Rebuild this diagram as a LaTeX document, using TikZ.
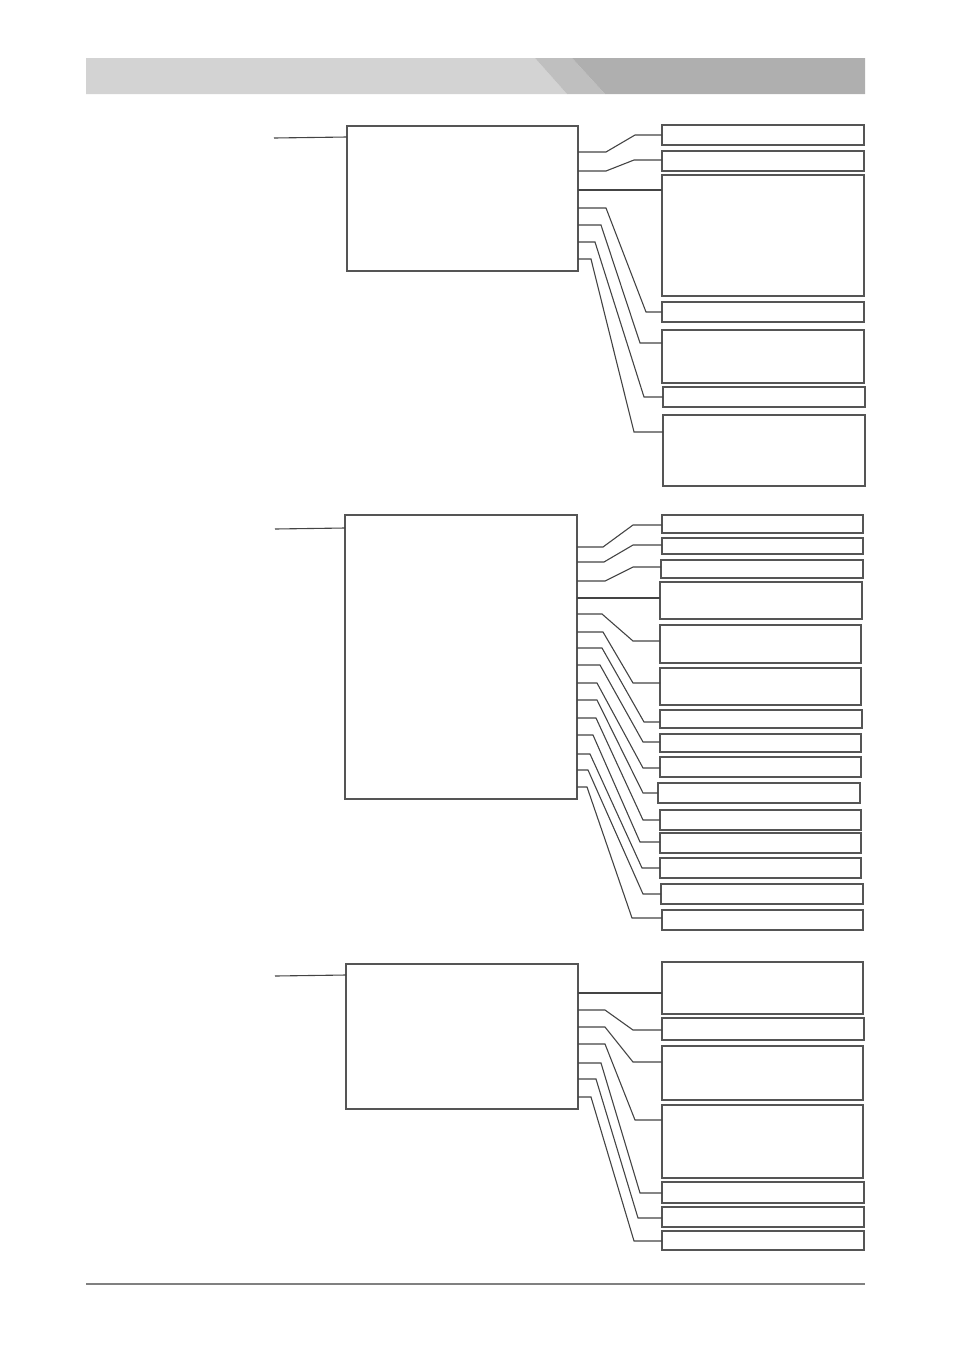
\documentclass[tikz,border=0pt]{standalone}
\usepackage{tikz}
\definecolor{boxgray}{HTML}{555555}
\definecolor{linegray}{HTML}{444444}
\definecolor{bandlight}{HTML}{D3D3D3}
\definecolor{bandmid}{HTML}{BFBFBF}
\definecolor{banddark}{HTML}{AFAFAF}
\tikzset{every node/.style={shape=rectangle,draw=boxgray,line width=1.4pt,anchor=north west,inner sep=0pt,outer sep=0pt}}
\tikzset{mainbox/.style={line width=1.6pt}}
\tikzset{link/.style={draw=linegray,line width=1.1pt}}

\begin{document}
\begin{tikzpicture}[x=1pt,y=-1pt]
  \useasboundingbox (0,0) rectangle (954,1350);

  % header band
  \fill[bandlight] (86,58) -- (535,58) -- (567,94) -- (86,94) -- cycle;
  \fill[bandmid] (535,58) -- (572,58) -- (605,94) -- (567,94) -- cycle;
  \fill[banddark] (572,58) -- (865,58) -- (865,94) -- (605,94) -- cycle;

  % first group
  \node[mainbox,minimum width=231pt,minimum height=145pt] (A) at (347,126) {};
  \node[minimum width=202pt,minimum height=20pt] (a1) at (662,125) {};
  \node[minimum width=202pt,minimum height=20pt] (a2) at (662,151) {};
  \node[minimum width=202pt,minimum height=121pt] (a3) at (662,175) {};
  \node[minimum width=202pt,minimum height=20pt] (a4) at (662,302) {};
  \node[minimum width=202pt,minimum height=53pt] (a5) at (662,330) {};
  \node[minimum width=202pt,minimum height=20pt] (a6) at (663,387) {};
  \node[minimum width=202pt,minimum height=71pt] (a7) at (663,415) {};

  \coordinate (inA) at (274,138);
  \path[link] (inA) -- (A.west |- 0,137);
  \path[link] (A.east |- 0,190) -- (a3.west |- 0,190);
  \foreach \ya/\xh/\xs/\yb/\n in {152/606/635/135/1, 171/606/634/160/2,
      208/606/646/312/4, 225/601/640/343/5, 242/595/644/397/6, 259/591/634/432/7}
    \path[link] (A.east |- 0,\ya) -- (\xh,\ya) -- (\xs,\yb) -- (a\n.west |- 0,\yb);

  % second group
  \node[mainbox,minimum width=232pt,minimum height=284pt] (B) at (345,515) {};
  \node[minimum width=201pt,minimum height=18pt] (b1) at (662,515) {};
  \node[minimum width=201pt,minimum height=16pt] (b2) at (662,538) {};
  \node[minimum width=202pt,minimum height=18pt] (b3) at (661,560) {};
  \node[minimum width=202pt,minimum height=37pt] (b4) at (660,582) {};
  \node[minimum width=201pt,minimum height=38pt] (b5) at (660,625) {};
  \node[minimum width=201pt,minimum height=37pt] (b6) at (660,668) {};
  \node[minimum width=202pt,minimum height=18pt] (b7) at (660,710) {};
  \node[minimum width=201pt,minimum height=18pt] (b8) at (660,734) {};
  \node[minimum width=201pt,minimum height=20pt] (b9) at (660,757) {};
  \node[minimum width=202pt,minimum height=20pt] (b10) at (658,783) {};
  \node[minimum width=201pt,minimum height=20pt] (b11) at (660,810) {};
  \node[minimum width=201pt,minimum height=20pt] (b12) at (660,833) {};
  \node[minimum width=201pt,minimum height=20pt] (b13) at (660,858) {};
  \node[minimum width=202pt,minimum height=20pt] (b14) at (661,884) {};
  \node[minimum width=201pt,minimum height=20pt] (b15) at (662,910) {};

  \coordinate (inB) at (275,529);
  \path[link] (inB) -- (B.west |- 0,528);
  \path[link] (B.east |- 0,598) -- (b4.west |- 0,598);
  \foreach \ya/\xh/\xs/\yb/\n in {547/603/633/525/1, 562/604/633/545/2, 581/605/633/567/3,
      614/602/633/641/5, 632/603/633/683/6, 648/602/644/722/7, 665/600/643/742/8,
      683/597/643/768/9, 700/597/643/793/10, 718/596/643/820/11, 735/593/640/842/12,
      754/590/642/868/13, 770/588/643/894/14, 787/587/632/918/15}
    \path[link] (B.east |- 0,\ya) -- (\xh,\ya) -- (\xs,\yb) -- (b\n.west |- 0,\yb);

  % third group
  \node[mainbox,minimum width=232pt,minimum height=145pt] (C) at (346,964) {};
  \node[minimum width=201pt,minimum height=52pt] (c1) at (662,962) {};
  \node[minimum width=202pt,minimum height=22pt] (c2) at (662,1018) {};
  \node[minimum width=201pt,minimum height=54pt] (c3) at (662,1046) {};
  \node[minimum width=201pt,minimum height=73pt] (c4) at (662,1105) {};
  \node[minimum width=202pt,minimum height=21pt] (c5) at (662,1182) {};
  \node[minimum width=202pt,minimum height=20pt] (c6) at (662,1207) {};
  \node[minimum width=202pt,minimum height=19pt] (c7) at (662,1231) {};

  \coordinate (inC) at (275,976);
  \path[link] (inC) -- (C.west |- 0,975);
  \path[link] (C.east |- 0,993) -- (c1.west |- 0,993);
  \foreach \ya/\xh/\xs/\yb/\n in {1010/605/633/1030/2, 1027/605/633/1062/3, 1044/605/635/1120/4,
      1063/601/640/1193/5, 1079/596/638/1218/6, 1097/591/634/1241/7}
    \path[link] (C.east |- 0,\ya) -- (\xh,\ya) -- (\xs,\yb) -- (c\n.west |- 0,\yb);

  % footer rule
  \draw[draw=gray,line width=1.6pt] (86,1284) -- (865,1284);
\end{tikzpicture}
\end{document}
